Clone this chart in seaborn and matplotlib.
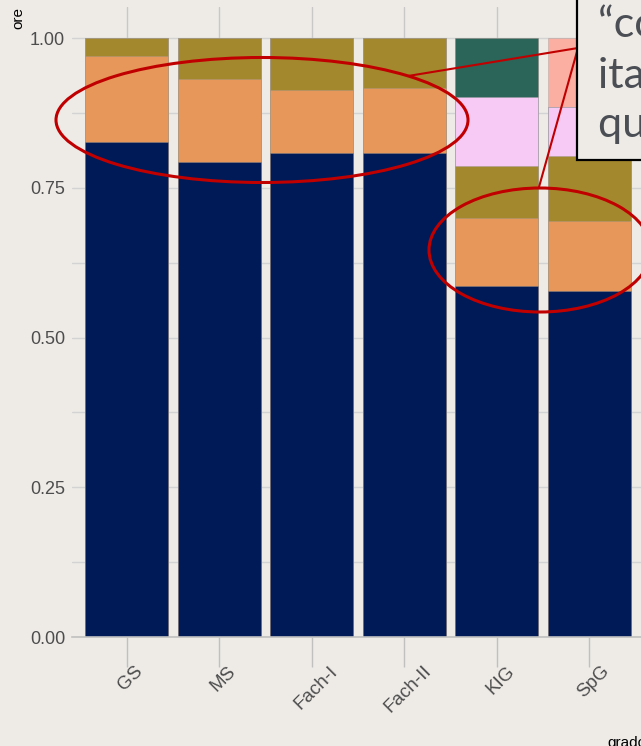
import numpy as np
import pandas as pd
import matplotlib.pyplot as plt
import matplotlib.transforms as mtransforms
from matplotlib.patches import Ellipse, Rectangle
from matplotlib.lines import Line2D
from matplotlib.ticker import MultipleLocator
import seaborn as sns

# Quote di ore per grado scolastico
grado = ["GS", "MS", "Fach-I", "Fach-II", "KIG", "SpG"]
quota_blu = [0.827, 0.793, 0.809, 0.809, 0.586, 0.578]
quota_arancio = [0.143, 0.139, 0.104, 0.107, 0.113, 0.116]
quota_oliva = [0.030, 0.068, 0.087, 0.084, 0.087, 0.109]
quota_rosa = [0.0, 0.0, 0.0, 0.0, 0.116, 0.082]
quota_verde = [0.0, 0.0, 0.0, 0.0, 0.098, 0.0]
quota_salmone = [0.0, 0.0, 0.0, 0.0, 0.0, 0.115]

# ordine dal basso verso l'alto
livelli = ["blu", "arancio", "oliva", "rosa", "verde", "salmone"]
quote = [quota_blu, quota_arancio, quota_oliva, quota_rosa, quota_verde, quota_salmone]
colori = {"blu": "#001A57", "arancio": "#E69759", "oliva": "#A4882E",
          "rosa": "#F7CAF6", "verde": "#2B6459", "salmone": "#FBAEA2"}

sfondo = "#EEEBE7"
sns.set_theme(style="whitegrid")
plt.rcParams["font.family"] = ["Liberation Sans", "DejaVu Sans"]

W, H = 641, 746
fig = plt.figure(figsize=(W / 100, H / 100), dpi=100, facecolor=sfondo)
ax = fig.add_axes([72 / W, 109 / H, (644 - 72) / W, 630 / H])
ax.set_facecolor(sfondo)

# barre impilate: si disegna dall'alto (cumulata) verso il basso
cum = np.cumsum(np.array(quote), axis=0)
for i in range(len(livelli) - 1, -1, -1):
    df = pd.DataFrame({"grado": grado, "quota": cum[i]})
    sns.barplot(data=df, x="grado", y="quota", color=colori[livelli[i]],
                saturation=1, width=0.9, errorbar=None, ax=ax,
                edgecolor=(0.6, 0.6, 0.6, 0.5), linewidth=0.5, zorder=2)

ax.set_xlim(-0.59, 5.59)
ax.set_ylim(0, 1.052)
ax.set_yticks([0, 0.25, 0.5, 0.75, 1.0])
ax.set_yticklabels(["0.00", "0.25", "0.50", "0.75", "1.00"])
ax.yaxis.set_minor_locator(MultipleLocator(0.125))
ax.grid(True, which="both", axis="y", color="#D3D3D3", linewidth=1.0, zorder=0)
ax.grid(True, which="major", axis="x", color="#C8C8C8", linewidth=1.0, zorder=0)
ax.set_axisbelow(True)

for s in ["top", "right", "left"]:
    ax.spines[s].set_visible(False)
ax.spines["bottom"].set_color("#C0C0C0")
ax.spines["bottom"].set_linewidth(1.2)

ax.tick_params(axis="y", length=0, pad=5, labelsize=13, labelcolor="#4D4D4D")
ax.tick_params(axis="y", which="minor", length=0)
ax.tick_params(axis="x", length=21.6, width=1.0, color="#C0C0C0", pad=-3,
               labelsize=13.5, labelcolor="#4D4D4D", bottom=True)
sposta = mtransforms.ScaledTranslation(4 / 100, 0, fig.dpi_scale_trans)
for lab in ax.get_xticklabels():
    lab.set_rotation(45)
    lab.set_ha("center")
    lab.set_transform(lab.get_transform() + sposta)

ax.set_ylabel("ore", loc="top", fontsize=11, color="black")
ax.yaxis.set_label_coords(-0.081, 1.0)
ax.set_xlabel("grado", loc="right", fontsize=11, color="black")
ax.xaxis.set_label_coords(1.004, -0.157)


# annotazioni: coordinate in pixel della figura
def px(x, y):
    return (x / W, 1 - y / H)


rosso = "#C00000"
fig.patches.append(Ellipse(px(262, 120), 412 / W, 125 / H, transform=fig.transFigure,
                           fill=False, edgecolor=rosso, linewidth=2.2, zorder=5))
fig.patches.append(Ellipse(px(540, 250), 222 / W, 124 / H, transform=fig.transFigure,
                           fill=False, edgecolor=rosso, linewidth=2.2, zorder=5))
for fine in [(408, 76), (539, 187)]:
    (x0, y0), (x1, y1) = px(578, 48), px(*fine)
    fig.lines.append(Line2D([x0, x1], [y0, y1], transform=fig.transFigure,
                            color=rosso, linewidth=1.5, zorder=5))

fig.patches.append(Rectangle(px(577, 160), 300 / W, 200 / H, transform=fig.transFigure,
                             facecolor=sfondo, edgecolor="black", linewidth=1.6, zorder=6))
righe = ["\u201ccollocazione oraria", "italiano e matematica", "quota comune\u201d"]
for testo, base in zip(righe, [37, 88, 137]):
    fig.text(*px(598, base), testo, family=["Lato", "DejaVu Sans"], fontsize=31,
             color="#4B4F55", va="baseline", ha="left", zorder=7)

fig.savefig("out.png", dpi=100, facecolor=sfondo)
